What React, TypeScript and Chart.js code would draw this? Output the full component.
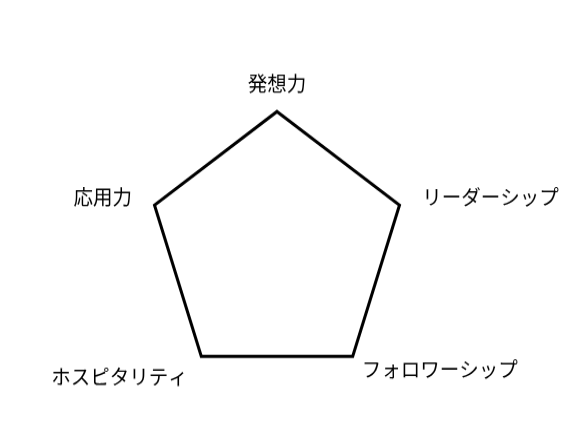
import React, { useEffect, useRef } from "react";
import { Chart, registerables } from "chart.js";

Chart.register(...registerables);

const categories = ["発想力", "リーダーシップ", "フォロワーシップ", "ホスピタリティ", "応用力"];
const values = [4, 4, 4, 4, 4];
const scaleMin = 0;
const scaleMax = 5;

const labelPadding = [-6.5, -8.4, -17, -9, -8.5];

export default function App() {
  const ref = useRef<HTMLCanvasElement | null>(null);
  useEffect(() => {
    if (!ref.current) return;
    const chart = new Chart(ref.current, {
      type: "radar",
      data: {
        labels: categories,
        datasets: [
          {
            data: values,
            borderColor: "#000",
            borderWidth: 3,
            backgroundColor: "rgba(0,0,0,0)",
            fill: false,
            pointRadius: 0,
            pointHoverRadius: 0,
          },
        ],
      },
      options: {
        animation: false,
        responsive: false,
        devicePixelRatio: 1,
        layout: { padding: { left: 0, right: 0, top: 74, bottom: 21 } },
        plugins: { legend: { display: false }, tooltip: { enabled: false } },
        scales: {
          r: {
            min: scaleMin,
            max: scaleMax,
            grid: { display: false },
            angleLines: { display: false },
            ticks: { display: false },
            pointLabels: {
              display: true,
              color: "#000",
              padding: (ctx: any) => labelPadding[ctx.index],
              font: { family: "'Noto Sans CJK JP', sans-serif", size: 19.5, lineHeight: "1px" },
            },
          },
        },
      },
    });
    return () => chart.destroy();
  }, []);
  return (
    <div style={{ position: "fixed", left: 0, top: 0, width: 570, height: 438, overflow: "hidden", background: "#fff" }}>
      <canvas
        ref={ref}
        width={586}
        height={417}
        style={{ position: "absolute", left: "-16px", top: 0, width: "586px", height: "438px", display: "block" }}
      />
    </div>
  );
}
